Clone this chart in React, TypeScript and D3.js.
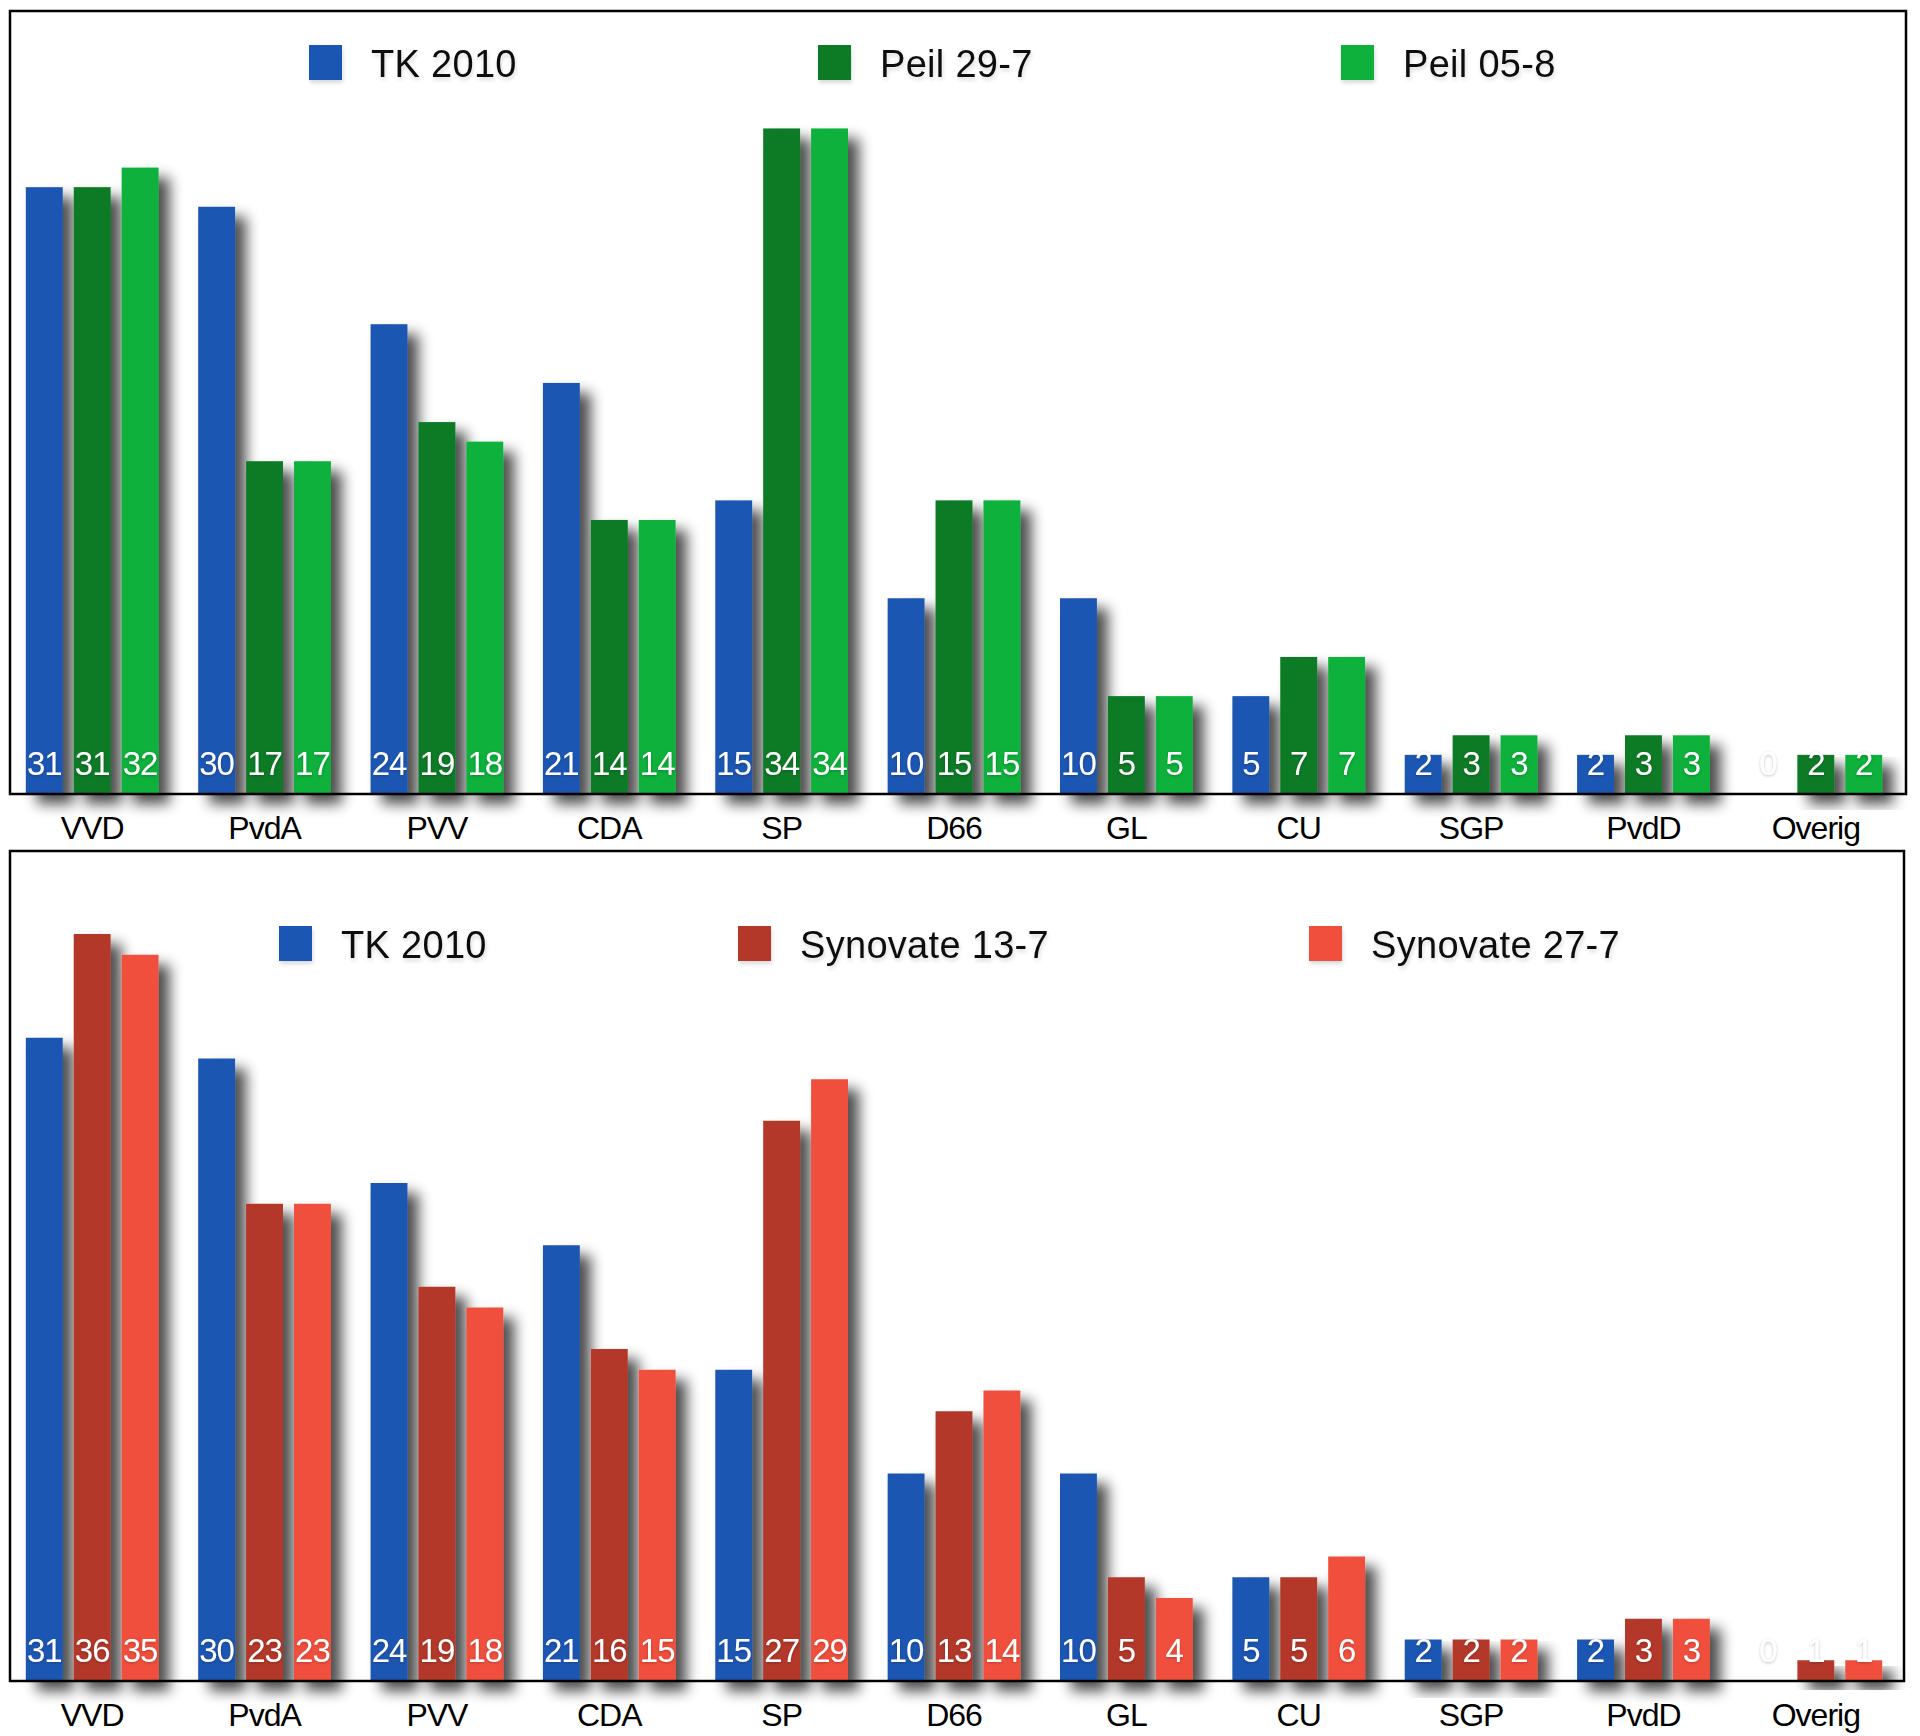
import React from "react";
import * as d3 from "d3";

const categories = ["VVD", "PvdA", "PVV", "CDA", "SP", "D66", "GL", "CU", "SGP", "PvdD", "Overig"];
const tk2010 = [31, 30, 24, 21, 15, 10, 10, 5, 2, 2, 0];
const peil297 = [31, 17, 19, 14, 34, 15, 5, 7, 3, 3, 2];
const peil058 = [32, 17, 18, 14, 34, 15, 5, 7, 3, 3, 2];
const synovate137 = [36, 23, 19, 16, 27, 13, 5, 5, 2, 3, 1];
const synovate277 = [35, 23, 18, 15, 29, 14, 4, 6, 2, 3, 1];

const topNames = ["TK 2010", "Peil 29-7", "Peil 05-8"];
const bottomNames = ["TK 2010", "Synovate 13-7", "Synovate 27-7"];

const BLUE = "#1f56b3";
const topColors = [BLUE, "#087a26", "#0bb13a"];
const bottomColors = [BLUE, "#b3392b", "#f14f3c"];

const FONT = "'Liberation Sans', Arial, Helvetica, sans-serif";

type PanelCfg = {
  id: string;
  series: number[][];
  names: string[];
  colors: string[];
  top: number;
  bottom: number;
  right: number;
  legendX: number[];
  legendY: number;
};

const panels: PanelCfg[] = [
  {
    id: "p1",
    series: [tk2010, peil297, peil058],
    names: topNames,
    colors: topColors,
    top: 11,
    bottom: 794,
    right: 1906,
    legendX: [309, 818, 1341],
    legendY: 63,
  },
  {
    id: "p2",
    series: [tk2010, synovate137, synovate277],
    names: bottomNames,
    colors: bottomColors,
    top: 851,
    bottom: 1681,
    right: 1904,
    legendX: [279, 738, 1309],
    legendY: 944,
  },
];

const LEFT = 10;

function Panel({ cfg }: { cfg: PanelCfg }) {
  const x0 = d3
    .scaleBand<string>()
    .domain(categories)
    .range([6, 1902])
    .paddingInner(0.23)
    .paddingOuter(0.115);
  const x1 = d3
    .scaleBand<number>()
    .domain(cfg.series.map((_, i) => i))
    .range([0, x0.bandwidth()])
    .paddingInner(0.23)
    .paddingOuter(0);
  const y = d3.scaleLinear().domain([0, 40]).range([cfg.bottom, cfg.top]);

  return (
    <g>
      <rect x={LEFT} y={cfg.top} width={cfg.right - LEFT} height={cfg.bottom - cfg.top} fill="#fff" />
      {cfg.names.map((n, i) => (
        <g key={n} filter="url(#legshadow)">
          <rect x={cfg.legendX[i]} y={cfg.legendY - 18} width={33} height={35} fill={cfg.colors[i]} />
          <text
            x={cfg.legendX[i] + 62}
            y={cfg.legendY + 14}
            fontFamily={FONT}
            fontSize={38}
            fill="#111"
            style={{ letterSpacing: "0.3px" }}
          >
            {n}
          </text>
        </g>
      ))}
      {categories.map((c, ci) => (
        <g key={c} transform={`translate(${x0(c)},0)`}>
          <g filter="url(#barshadow)">
            {cfg.series.map((s, si) =>
              s[ci] > 0 ? (
                <rect
                  key={si}
                  x={x1(si)}
                  y={y(s[ci])}
                  width={x1.bandwidth()}
                  height={y(0) - y(s[ci])}
                  fill={cfg.colors[si]}
                />
              ) : null
            )}
          </g>
          {cfg.series.map((s, si) => (
            <text
              key={"t" + si}
              x={(x1(si) as number) + x1.bandwidth() / 2}
              y={cfg.bottom - 19}
              textAnchor="middle"
              fontFamily={FONT}
              fontSize={33}
              fill="#fff"
              filter="url(#txtshadow)"
              style={{ letterSpacing: "-1px" }}
            >
              {s[ci]}
            </text>
          ))}
          <text
            x={x0.bandwidth() / 2}
            y={cfg.bottom + 45}
            textAnchor="middle"
            fontFamily={FONT}
            fontSize={32}
            fill="#000"
            style={{ letterSpacing: "-1px" }}
          >
            {c}
          </text>
        </g>
      ))}
      <rect
        x={LEFT}
        y={cfg.top}
        width={cfg.right - LEFT}
        height={cfg.bottom - cfg.top}
        fill="none"
        stroke="#000"
        strokeWidth={2.5}
      />
    </g>
  );
}

export default function App() {
  return (
    <svg
      width={1920}
      height={1736}
      viewBox="0 0 1920 1736"
      style={{ position: "absolute", left: 0, top: 0, background: "#fff" }}
    >
      <defs>
        <filter id="barshadow" x="-20%" y="-20%" width="160%" height="160%">
          <feGaussianBlur in="SourceAlpha" stdDeviation="7" />
          <feOffset dx="11" dy="10" result="off" />
          <feComponentTransfer>
            <feFuncA type="linear" slope="0.7" />
          </feComponentTransfer>
          <feMerge>
            <feMergeNode />
            <feMergeNode in="SourceGraphic" />
          </feMerge>
        </filter>
        <filter id="legshadow" x="-20%" y="-20%" width="140%" height="160%">
          <feGaussianBlur in="SourceAlpha" stdDeviation="2" />
          <feOffset dx="1" dy="3" />
          <feComponentTransfer>
            <feFuncA type="linear" slope="0.15" />
          </feComponentTransfer>
          <feMerge>
            <feMergeNode />
            <feMergeNode in="SourceGraphic" />
          </feMerge>
        </filter>
        <filter id="txtshadow" x="-30%" y="-30%" width="160%" height="160%">
          <feGaussianBlur in="SourceAlpha" stdDeviation="1.5" />
          <feOffset dx="0" dy="1" />
          <feComponentTransfer>
            <feFuncA type="linear" slope="0.25" />
          </feComponentTransfer>
          <feMerge>
            <feMergeNode />
            <feMergeNode in="SourceGraphic" />
          </feMerge>
        </filter>
      </defs>
      <rect x={0} y={0} width={1920} height={1736} fill="#fff" />
      {panels.map((p) => (
        <Panel key={p.id} cfg={p} />
      ))}
    </svg>
  );
}
